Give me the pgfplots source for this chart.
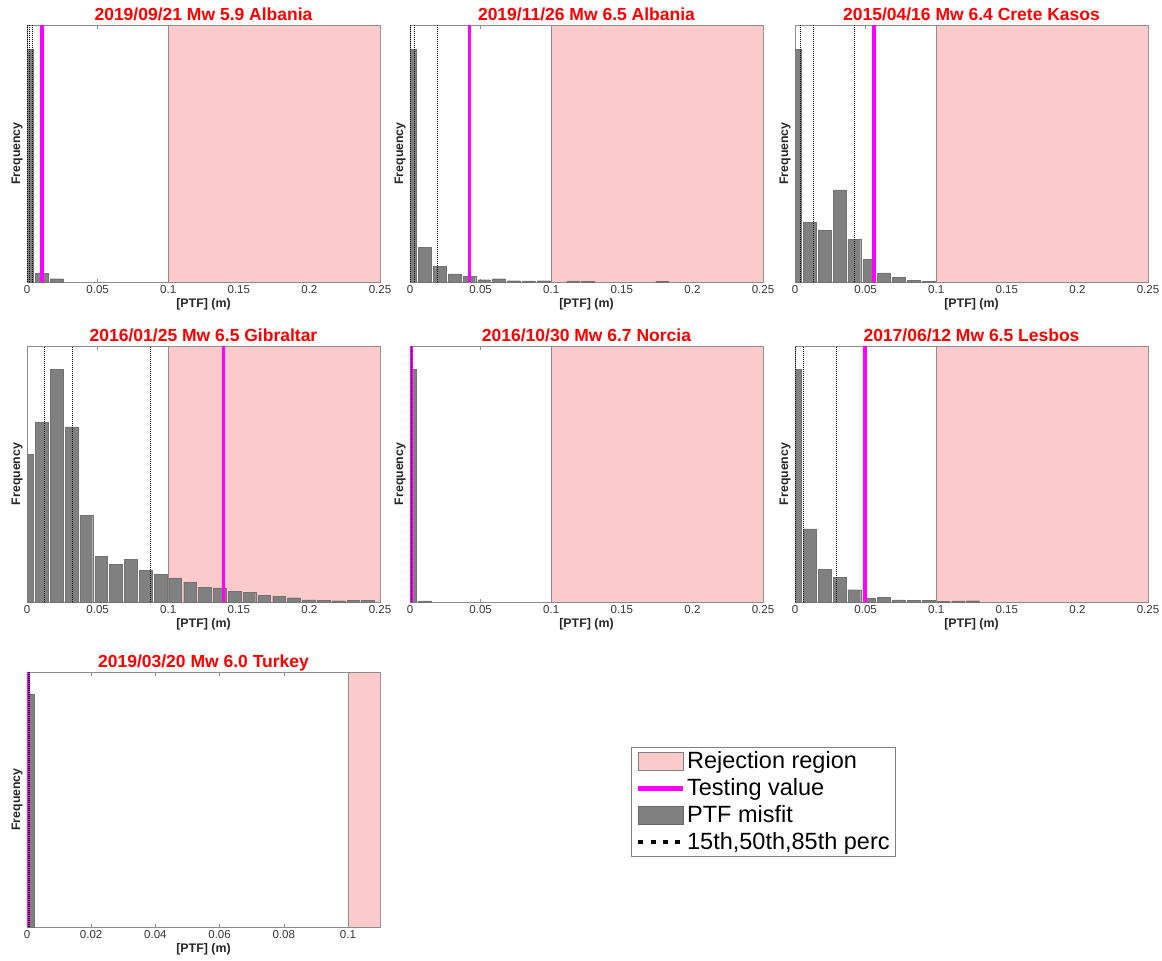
\documentclass[border=0pt]{standalone}
\usepackage{fontspec}
\setmainfont{Liberation Sans}
\usepackage{pgfplots}
\pgfplotsset{compat=1.18}
\definecolor{rejpink}{RGB}{252,202,202}
\definecolor{bargray}{RGB}{128,128,128}
\definecolor{axgray}{RGB}{140,140,140}
\definecolor{ticktext}{RGB}{55,55,55}
\definecolor{mag}{RGB}{255,0,255}

\pgfplotsset{
 panel/.style={
  scale only axis, width=353pt, anchor=south west,
  ymin=0, ymax=1, ytick=\empty,
  axis line style={axgray}, every tick/.style={axgray},
  tick align=inside, major tick length=3.5pt,
  /pgf/number format/assume math mode=true,
  tick label style={font=\fontsize{11.5}{12}\selectfont, text=ticktext},
  title style={font=\bfseries\fontsize{17.5}{20}\selectfont, text=red, at={(axis description cs:0.5,1)}, anchor=base, yshift=-1pt},
  xlabel={[PTF] (m)},
  xlabel style={font=\bfseries\fontsize{12.4}{14}\selectfont, at={(axis description cs:0.5,0)}, anchor=north, yshift=-16pt, inner sep=0pt, text=black!85},
  ylabel={Frequency},
  ylabel style={font=\bfseries\fontsize{12.3}{14}\selectfont, at={(axis description cs:-0.012,0.5)}, anchor=south, inner sep=0pt, text=black!85},
 },
 wide/.style={xmin=0, xmax=0.25, xtick={0,0.05,0.1,0.15,0.2,0.25}, xticklabels={0,0.05,0.1,0.15,0.2,0.25}},
 rej/.style={fill=rejpink, draw=black!45, line width=0.6pt, forget plot},
 bars/.style={ybar, bar width=0.009, fill=bargray, draw=black!55, line width=0.3pt, forget plot},
 testv/.style={mag, line width=3.5pt, forget plot},
 perc/.style={black, line width=0.7pt, dash pattern=on 1pt off 1pt, forget plot},
}

\begin{document}
\begin{tikzpicture}
\path[use as bounding box] (0pt,0pt) rectangle (1162pt,-961pt);

% Panel 1
\begin{axis}[panel, wide, height=257pt, at={(27pt,-282pt)}, title={2019/09/21 Mw 5.9 Albania}]
\addplot[rej] coordinates {(0.1,0) (0.1,1) (0.25,1) (0.25,0) (0.1,0)};
\addplot[bars] coordinates {(0,0.905) (0.0105,0.035) (0.021,0.013)};
\addplot[testv] coordinates {(0.0106,0) (0.0106,1)};
\addplot[perc] coordinates {(0.0005,0) (0.0005,1)};
\addplot[perc] coordinates {(0.002,0) (0.002,1)};
\addplot[perc] coordinates {(0.0035,0) (0.0035,1)};
\end{axis}

% Panel 2
\begin{axis}[panel, wide, height=257pt, at={(410pt,-282pt)}, title={2019/11/26 Mw 6.5 Albania}]
\addplot[rej] coordinates {(0.1,0) (0.1,1) (0.25,1) (0.25,0) (0.1,0)};
\addplot[bars] coordinates {(0,0.905) (0.0105,0.136) (0.021,0.062) (0.0315,0.032) (0.042,0.022) (0.0525,0.009) (0.063,0.013) (0.0735,0.005) (0.084,0.004) (0.0945,0.005) (0.1155,0.004) (0.126,0.003) (0.1785,0.003)};
\addplot[testv] coordinates {(0.0422,0) (0.0422,1)};
\addplot[perc] coordinates {(0.0005,0) (0.0005,1)};
\addplot[perc] coordinates {(0.003,0) (0.003,1)};
\addplot[perc] coordinates {(0.0192,0) (0.0192,1)};
\end{axis}

% Panel 3
\begin{axis}[panel, wide, height=257pt, at={(795pt,-282pt)}, title={2015/04/16 Mw 6.4 Crete Kasos}]
\addplot[rej] coordinates {(0.1,0) (0.1,1) (0.25,1) (0.25,0) (0.1,0)};
\addplot[bars] coordinates {(0,0.905) (0.0105,0.231) (0.021,0.201) (0.0315,0.358) (0.042,0.166) (0.0525,0.088) (0.063,0.036) (0.0735,0.017) (0.084,0.006) (0.0945,0.003)};
\addplot[testv] coordinates {(0.056,0) (0.056,1)};
\addplot[perc] coordinates {(0.0036,0) (0.0036,1)};
\addplot[perc] coordinates {(0.0133,0) (0.0133,1)};
\addplot[perc] coordinates {(0.0417,0) (0.0417,1)};
\end{axis}

% Panel 4
\begin{axis}[panel, wide, height=256pt, at={(27pt,-602pt)}, title={2016/01/25 Mw 6.5 Gibraltar}]
\addplot[rej] coordinates {(0.1,0) (0.1,1) (0.25,1) (0.25,0) (0.1,0)};
\addplot[bars] coordinates {(0,0.576) (0.0105,0.703) (0.021,0.909) (0.0315,0.684) (0.042,0.339) (0.0525,0.178) (0.063,0.148) (0.0735,0.167) (0.084,0.124) (0.0945,0.107) (0.105,0.094) (0.1155,0.078) (0.126,0.057) (0.1365,0.055) (0.147,0.042) (0.1575,0.038) (0.168,0.025) (0.1785,0.023) (0.189,0.017) (0.1995,0.008) (0.21,0.007) (0.2205,0.005) (0.231,0.007) (0.2415,0.007)};
\addplot[testv] coordinates {(0.139,0) (0.139,1)};
\addplot[perc] coordinates {(0.012,0) (0.012,1)};
\addplot[perc] coordinates {(0.032,0) (0.032,1)};
\addplot[perc] coordinates {(0.0873,0) (0.0873,1)};
\end{axis}

% Panel 5
\begin{axis}[panel, wide, height=256pt, at={(410pt,-602pt)}, title={2016/10/30 Mw 6.7 Norcia}]
\addplot[rej] coordinates {(0.1,0) (0.1,1) (0.25,1) (0.25,0) (0.1,0)};
\addplot[bars] coordinates {(0,0.909) (0.0105,0.004)};
\addplot[testv] coordinates {(0.0009,0) (0.0009,1)};
\addplot[perc] coordinates {(0.0006,0) (0.0006,1)};
\addplot[perc] coordinates {(0.0009,0) (0.0009,1)};
\addplot[perc] coordinates {(0.0012,0) (0.0012,1)};
\end{axis}

% Panel 6
\begin{axis}[panel, wide, height=256pt, at={(795pt,-602pt)}, title={2017/06/12 Mw 6.5 Lesbos}]
\addplot[rej] coordinates {(0.1,0) (0.1,1) (0.25,1) (0.25,0) (0.1,0)};
\addplot[bars] coordinates {(0,0.909) (0.0105,0.286) (0.021,0.128) (0.0315,0.096) (0.042,0.048) (0.0525,0.016) (0.063,0.018) (0.0735,0.008) (0.084,0.007) (0.0945,0.007) (0.105,0.003) (0.1155,0.004) (0.126,0.005)};
\addplot[testv] coordinates {(0.0495,0) (0.0495,1)};
\addplot[perc] coordinates {(0.0004,0) (0.0004,1)};
\addplot[perc] coordinates {(0.0062,0) (0.0062,1)};
\addplot[perc] coordinates {(0.0293,0) (0.0293,1)};
\end{axis}

% Panel 7 with legend
\begin{axis}[panel, height=255pt, at={(27pt,-927pt)}, title={2019/03/20 Mw 6.0 Turkey},
  xmin=0, xmax=0.11, xtick={0,0.02,0.04,0.06,0.08,0.1}, xticklabels={0,0.02,0.04,0.06,0.08,0.1},
  legend cell align=left,
  legend style={at={(1.712,0.706)}, anchor=north west, draw=black!50, line width=0.6pt,
    font=\fontsize{23.5}{26}\selectfont, row sep=5.5pt, inner xsep=4pt, inner ysep=3pt,
    nodes={inner sep=1.5pt}}]
\addplot[rej] coordinates {(0.1,0) (0.1,1) (0.11,1) (0.11,0) (0.1,0)};
\addplot[ybar, bar width=0.0046, fill=bargray, draw=black!55, line width=0.3pt, forget plot] coordinates {(0,0.912)};
\addplot[testv] coordinates {(0.0004,0) (0.0004,1)};
\addplot[perc] coordinates {(0.0003,0) (0.0003,1)};
\addplot[perc] coordinates {(0.0005,0) (0.0005,1)};
\addplot[perc] coordinates {(0.0007,0) (0.0007,1)};
\addlegendimage{legend image code/.code={\draw[fill=rejpink, draw=black!50, line width=0.6pt] (0pt,-9pt) rectangle (45pt,9pt);}}
\addlegendentry{Rejection region}
\addlegendimage{legend image code/.code={\draw[mag, line width=5pt] (0pt,0pt) -- (45pt,0pt);}}
\addlegendentry{Testing value}
\addlegendimage{legend image code/.code={\draw[fill=bargray, draw=black!60, line width=0.6pt] (0pt,-9pt) rectangle (45pt,9pt);}}
\addlegendentry{PTF misfit}
\addlegendimage{legend image code/.code={\draw[black, line width=4.5pt, dash pattern=on 5pt off 7.4pt] (0pt,0pt) -- (45pt,0pt);}}
\addlegendentry{15th,50th,85th perc}
\end{axis}
\end{tikzpicture}
\end{document}
